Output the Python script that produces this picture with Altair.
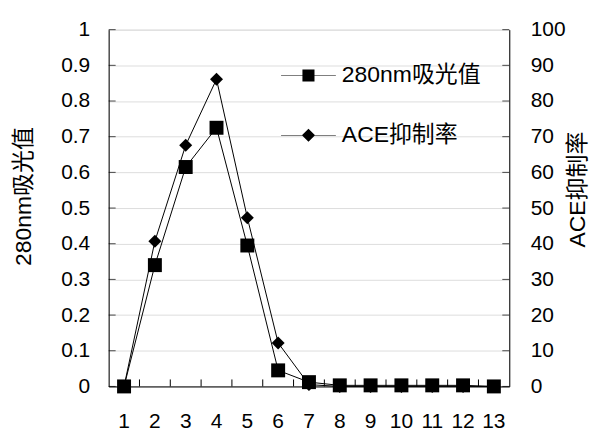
import altair as alt
import pandas as pd

fractions = [1, 2, 3, 4, 5, 6, 7, 8, 9, 10, 11, 12, 13]
absorbance = [0, 0.34, 0.615, 0.725, 0.395, 0.045, 0.012, 0.003, 0.003, 0.003, 0.003, 0.003, 0]
ace_rate = [0, 40.7, 67.6, 86.1, 47.3, 12.2, 0.5, 0, 0, 0, 0, 0, 0]
series_names = ["280nm吸光值", "ACE抑制率"]
left_ticks = [0, 0.1, 0.2, 0.3, 0.4, 0.5, 0.6, 0.7, 0.8, 0.9, 1]
right_ticks = [0, 10, 20, 30, 40, 50, 60, 70, 80, 90, 100]

df = pd.DataFrame({"fraction": fractions, "absorbance": absorbance, "ace": ace_rate})
df_left_ticks = pd.DataFrame({"v": left_ticks})
df_right_ticks = pd.DataFrame({"v": right_ticks})
df_x_ticks = pd.DataFrame({"fraction": fractions[1:]})
df_legend = pd.DataFrame({"series": series_names})

FONT = "Liberation Sans, Noto Sans CJK SC"
W, H = 402, 358
TICK = 7
LABEL_SIZE = 21
TITLE_SIZE = 23

x_scale = alt.Scale(type="band", paddingInner=0, paddingOuter=0, domain=fractions)
x_axis = alt.Axis(
    title=None, labelAngle=0, ticks=False, tickSize=0, labelPadding=24,
    labelFontSize=LABEL_SIZE, labelFont=FONT, labelColor="black", domainColor="black",
)
x_enc = alt.X("fraction:O", scale=x_scale, axis=x_axis)

abs_scale = alt.Scale(domain=[0, 1], nice=False)
ace_scale = alt.Scale(domain=[0, 100], nice=False)

left_axis = alt.Axis(
    values=left_ticks, format="~g", title="280nm吸光值", ticks=False, tickSize=0,
    labelPadding=19, labelFontSize=LABEL_SIZE, labelFont=FONT, labelColor="black",
    domainColor="black", titleFontSize=TITLE_SIZE, titleFont=FONT,
    titleFontWeight="normal", titleColor="black", titleAngle=270,
    titleBaseline="middle", titleAlign="center", titleX=-85, titleY=167,
)
right_axis = alt.Axis(
    values=right_ticks, format="d", title="ACE抑制率", orient="right",
    ticks=False, tickSize=0, labelPadding=21, labelFontSize=LABEL_SIZE, labelFont=FONT,
    labelColor="black", domainColor="black", titleFontSize=TITLE_SIZE, titleFont=FONT,
    titleFontWeight="normal", titleColor="black", titleAngle=270,
    titleBaseline="middle", titleAlign="center", titleX=68, titleY=160,
)

# legend symbols: a thin bar (the line) plus the marker, all filled
SQUARE_SYMBOL = "M-1,-0.012H1V0.012H-1ZM-0.22,-0.22H0.22V0.22H-0.22Z"
DIAMOND_SYMBOL = "M-1,-0.012H1V0.012H-1ZM0,-0.24L0.24,0L0,0.24L-0.24,0Z"

# left (absorbance) layer
y_abs = alt.Y("absorbance:Q", scale=abs_scale, axis=left_axis)
abs_line = alt.Chart(df).mark_line(color="black", strokeWidth=1).encode(x=x_enc, y=y_abs)
abs_pts = alt.Chart(df).mark_point(
    shape="square", filled=True, color="black", size=196, opacity=1
).encode(x=x_enc, y=y_abs)
left_ticks_mark = alt.Chart(df_left_ticks).mark_tick(
    orient="horizontal", color="black", thickness=1, size=TICK
).encode(y=alt.Y("v:Q", scale=abs_scale, axis=left_axis), x=alt.value(TICK / 2))
x_ticks_mark = alt.Chart(df_x_ticks).mark_rule(color="black", strokeWidth=1).encode(
    x=alt.X("fraction:O", scale=x_scale, bandPosition=0, axis=x_axis),
    y=alt.value(H), y2=alt.value(H - TICK),
)
legend_mark = alt.Chart(df_legend).mark_point(
    opacity=0, filled=True, color="black"
).encode(
    shape=alt.Shape(
        "series:N",
        scale=alt.Scale(domain=series_names, range=[SQUARE_SYMBOL, DIAMOND_SYMBOL]),
        legend=alt.Legend(
            title=None, orient="none", legendX=173, legendY=18.5, padding=0,
            rowPadding=20, labelOffset=6, labelFontSize=TITLE_SIZE, labelFont=FONT,
            labelColor="black", symbolSize=3025, symbolStrokeWidth=0,
            symbolOpacity=1, symbolFillColor="black",
        ),
    )
)
left_layer = alt.layer(x_ticks_mark, abs_line, abs_pts, left_ticks_mark, legend_mark)

# right (ACE) layer
y_ace = alt.Y("ace:Q", scale=ace_scale, axis=right_axis)
ace_line = alt.Chart(df).mark_line(color="black", strokeWidth=1).encode(x=x_enc, y=y_ace)
ace_pts = alt.Chart(df).mark_point(
    shape="diamond", filled=True, color="black", size=169, opacity=1
).encode(x=x_enc, y=y_ace)
right_ticks_mark = alt.Chart(df_right_ticks).mark_tick(
    orient="horizontal", color="black", thickness=1, size=TICK
).encode(y=alt.Y("v:Q", scale=ace_scale, axis=right_axis), x=alt.value(W - TICK / 2))
right_layer = alt.layer(ace_line, ace_pts, right_ticks_mark)

chart = alt.layer(right_layer, left_layer).resolve_scale(y="independent").properties(
    width=W, height=H,
    autosize=alt.AutoSizeParams(type="none"),
    padding={"left": 101, "top": 21, "right": 80, "bottom": 44},
).configure_view(stroke=None).configure(background="white")

chart.save("out.html", embed_options={"renderer": "svg", "actions": False})
